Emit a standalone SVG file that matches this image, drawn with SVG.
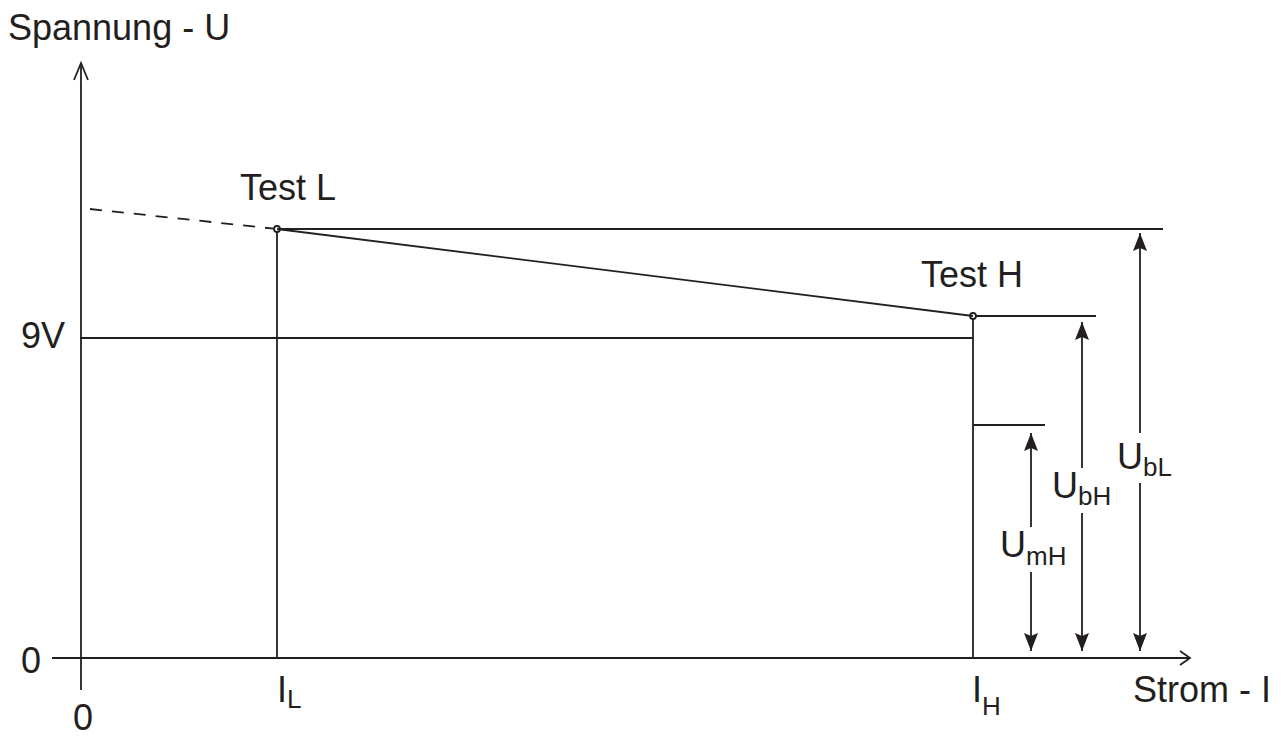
<svg xmlns="http://www.w3.org/2000/svg" width="1285" height="736" viewBox="0 0 1285 736">
<style>
.ln{stroke:#231f20;stroke-width:1.8;fill:none}
.t{font-family:"Liberation Sans",Arial,sans-serif;font-size:36px;fill:#231f20}
.s{font-size:26px}
.dash{stroke-dasharray:12 10}
</style>
<defs>
<marker id="ah" viewBox="0 0 18 14" refX="18" refY="7" markerWidth="18" markerHeight="14" markerUnits="userSpaceOnUse" orient="auto">
<path d="M0,0 L18,7 L0,14 L3,7 z" fill="#231f20"/>
</marker>
</defs>
<rect width="1285" height="736" fill="#fff"/>
<g id="connectors">
<line class="ln" x1="81" y1="690" x2="81" y2="63"/>
<polyline class="ln" points="74,80 81,63 88,80"/>
<line class="ln" x1="52" y1="658" x2="1189" y2="658"/>
<polyline class="ln" points="1180,651 1190,658 1180,665"/>
<line class="ln dash" x1="90" y1="209" x2="274" y2="228.7"/>
<line class="ln" x1="277" y1="229" x2="973" y2="316"/>
<line class="ln" x1="280" y1="229" x2="1163" y2="229"/>
<line class="ln" x1="277" y1="232" x2="277" y2="658"/>
<line class="ln" x1="976" y1="316" x2="1096" y2="316"/>
<line class="ln" x1="973" y1="319" x2="973" y2="658"/>
<line class="ln" x1="80" y1="338" x2="973" y2="338"/>
<line class="ln" x1="973" y1="425" x2="1045" y2="425"/>
<line class="ln" x1="1031" y1="527" x2="1031" y2="433" marker-end="url(#ah)"/>
<line class="ln" x1="1031" y1="572" x2="1031" y2="651" marker-end="url(#ah)"/>
<line class="ln" x1="1082" y1="468" x2="1082" y2="322" marker-end="url(#ah)"/>
<line class="ln" x1="1082" y1="513" x2="1082" y2="651" marker-end="url(#ah)"/>
<line class="ln" x1="1140" y1="433" x2="1140" y2="233" marker-end="url(#ah)"/>
<line class="ln" x1="1140" y1="483" x2="1140" y2="651" marker-end="url(#ah)"/>
</g>
<g id="testL">
<circle class="ln" cx="277" cy="229" r="3" stroke-width="1.5" fill="#fff"/>
<text class="t" x="240" y="200">Test L</text>
</g>
<g id="testH">
<circle class="ln" cx="973" cy="316" r="3" stroke-width="1.5" fill="#fff"/>
<text class="t" x="921" y="287">Test H</text>
</g>
<g id="labels">
<text class="t" x="8" y="40">Spannung - U</text>
<text class="t" x="21" y="348">9V</text>
<text class="t" x="21" y="673">0</text>
<text class="t" x="73" y="730">0</text>
<text class="t" x="1133" y="702">Strom - I</text>
<text class="t" x="277" y="702">I<tspan class="s" dy="6">L</tspan></text>
<text class="t" x="972" y="702">I<tspan class="s" dy="13">H</tspan></text>
<text class="t" x="1117" y="469">U<tspan class="s" dy="7">bL</tspan></text>
<text class="t" x="1052" y="498">U<tspan class="s" dy="7">bH</tspan></text>
<text class="t" x="1000" y="557">U<tspan class="s" dy="8">mH</tspan></text>
</g>
</svg>
